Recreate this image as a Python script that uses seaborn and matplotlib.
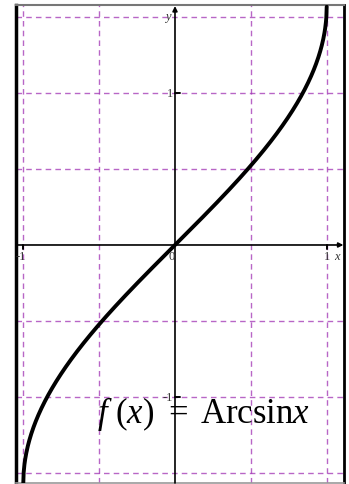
import numpy as np
import matplotlib
matplotlib.use("Agg")
import matplotlib.pyplot as plt
import seaborn as sns
import pandas as pd

sns.set_theme(style="white")
plt.rcParams["font.family"] = ["Liberation Serif", "DejaVu Serif"]
plt.rcParams["mathtext.fontset"] = "custom"
plt.rcParams["mathtext.rm"] = "Liberation Serif"
plt.rcParams["mathtext.it"] = "Liberation Serif:italic"

# Curve f(x) = arcsin x on [-1, 1]
x_vals = np.linspace(-1.0, 1.0, 801)
y_vals = np.arcsin(x_vals)
curve = pd.DataFrame({"x": x_vals, "y": y_vals})

x_grid = [-1.0, -0.5, 0.5, 1.0]
y_grid = [-1.5, -1.0, -0.5, 0.5, 1.0, 1.5]
x_tick_vals = [-1, 0, 1]
x_tick_labels = ["-1", "0", "1"]
y_tick_vals = [1, -1]
y_tick_labels = ["1", "-1"]
formula_parts = [r"$f\,\,(x)$", "=", r"Arcsin$x$"]

W, H = 349, 485
fig = plt.figure(figsize=(W / 100, H / 100), dpi=100)
left, right, top, bottom = 16, 344, 6, 484
ax = fig.add_axes([left / W, 1 - bottom / H, (right - left) / W, (bottom - top) / H])

ax.set_xlim(-1.048, 1.114)
ax.set_ylim(-1.569, 1.582)

grid_color = "#a033b4"
for gx in x_grid:
    ax.axvline(gx, color=grid_color, lw=1.0, ls=(0, (4, 3)), alpha=0.75, zorder=1)
for gy in y_grid:
    ax.axhline(gy, color=grid_color, lw=1.0, ls=(0, (4, 3)), alpha=0.75, zorder=1)

# Coordinate axes with arrow heads
ax.annotate("", xy=(1.11, 0), xytext=(-1.048, 0),
            arrowprops=dict(arrowstyle="-|>", color="black", lw=1.2,
                            mutation_scale=7, shrinkA=0, shrinkB=0), zorder=3)
ax.annotate("", xy=(0, 1.575), xytext=(0, -1.569),
            arrowprops=dict(arrowstyle="-|>", color="black", lw=1.2,
                            mutation_scale=7, shrinkA=0, shrinkB=0), zorder=3)

# small tick marks
for tx in [-1, 1]:
    ax.plot([tx, tx], [-0.028, 0.0], color="black", lw=1.4, zorder=3)
for ty in y_tick_vals:
    ax.plot([0, 0.035], [ty, ty], color="black", lw=1.4, zorder=3)

sns.lineplot(data=curve, x="x", y="y", ax=ax, color="black", lw=2.8,
             sort=False, zorder=4)

lab_color = "#333333"
x_offsets = [-0.02, -0.02, 0.0]
for v, t, dx in zip(x_tick_vals, x_tick_labels, x_offsets):
    ax.text(v + dx, -0.03, t, ha="center", va="top", fontsize=9, color=lab_color)
for v, t in zip(y_tick_vals, y_tick_labels):
    ax.text(-0.015, v, t, ha="right", va="center", fontsize=9, color=lab_color)
ax.text(1.07, -0.03, "x", ha="center", va="top", fontsize=9, style="italic", color=lab_color)
ax.text(-0.045, 1.47, "y", ha="center", va="bottom", fontsize=9, style="italic", color=lab_color)

# formula label, placed piece by piece
part_x = [-0.514, -0.045, 0.165]
for px, t in zip(part_x, formula_parts):
    ax.text(px, -1.167, t, ha="left", va="baseline", fontsize=25,
            color="black", zorder=5)

ax.set_xlabel("")
ax.set_ylabel("")
ax.set_xticks([])
ax.set_yticks([])
ax.spines["left"].set_color("black")
ax.spines["left"].set_linewidth(2.5)
ax.spines["right"].set_color("black")
ax.spines["right"].set_linewidth(2.0)
ax.spines["top"].set_color("#777777")
ax.spines["top"].set_linewidth(1.5)
ax.spines["bottom"].set_color("#999999")
ax.spines["bottom"].set_linewidth(1.2)

fig.savefig("out.png", dpi=100)
